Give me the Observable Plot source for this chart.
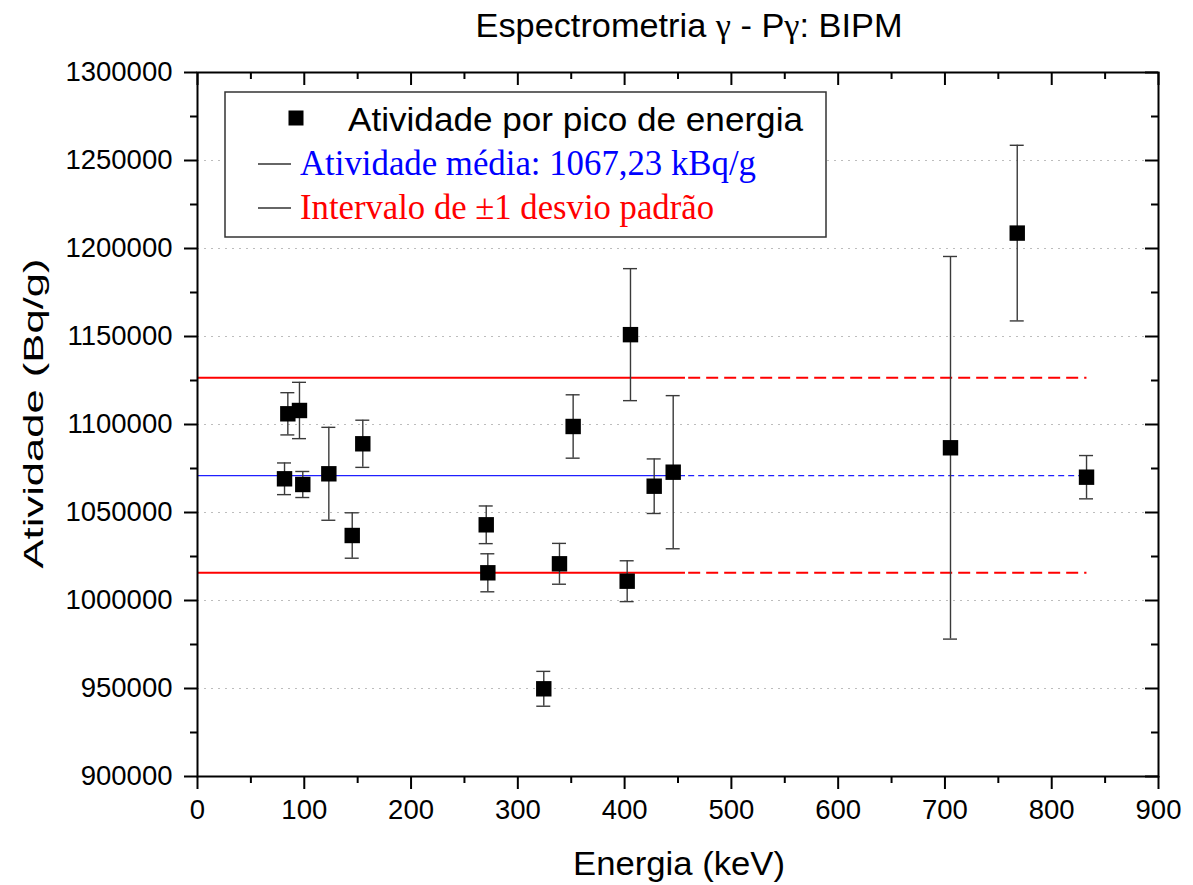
<!DOCTYPE html>
<html><head><meta charset="utf-8">
<script src="https://cdn.jsdelivr.net/npm/d3@7"></script>
<script src="https://cdn.jsdelivr.net/npm/@observablehq/plot@0.6"></script>
<style>
body{margin:0;background:#fff;}
#wrap{position:relative;width:1193px;height:885px;overflow:hidden;}
#wrap svg{position:absolute;left:0;top:0;}
</style></head><body><div id="wrap"></div>
<script>
// ---- data ----
const energies   = [81.5, 84.6, 95.5, 98.6, 123, 144.9, 154.8, 270.4, 271.9, 324.3, 339, 351.8, 402.4, 405.5, 427.7, 445.5, 705.2, 767.7, 832.6];
const activities = [1069150, 1106080, 1107960, 1065910, 1071990, 1036930, 1089040, 1043010, 1015740, 949830, 1020850, 1098870, 1010970, 1151050, 1064940, 1072900, 1086770, 1208750, 1070060];
const errors     = [9000, 12000, 16000, 7400, 26400, 12900, 13400, 10700, 10800, 9900, 11600, 18000, 11600, 37500, 15500, 43500, 108700, 49900, 12300];
const meanActivity = [1071000];
const sdBounds     = [1126500, 1015800];
const solidRange   = [0, 457];     // keV, solid part of reference lines
const dashedRange  = [460, 833];   // keV, dashed part of reference lines
const xTicks      = [0, 100, 200, 300, 400, 500, 600, 700, 800, 900];
const xMinorTicks = [50, 150, 250, 350, 450, 550, 650, 750, 850];
const yTicks      = [900000, 950000, 1000000, 1050000, 1100000, 1150000, 1200000, 1250000, 1300000];
const yMinorTicks = [925000, 975000, 1025000, 1075000, 1125000, 1175000, 1225000, 1275000];
const gridTicks   = [950000, 1000000, 1050000, 1100000, 1150000, 1200000, 1250000];
const titleText   = ["Espectrometria ", "γ", " - P", "γ", ": BIPM"];
const xLabel = "Energia (keV)";
const yLabel = "Atividade (Bq/g)";
const legendLabels = ["Atividade por pico de energia", "Atividade média: 1067,23 kBq/g", "Intervalo de ±1 desvio padrão"];

const data = energies.map((e, i) => ({e, a: activities[i], err: errors[i]}));

const W = 1193, H = 885, mL = 197, mR = 35, mT = 72, mB = 109;
const fw = W - mL - mR, fh = H - mT - mB;
const sans = "'Liberation Sans', Arial, Helvetica, sans-serif";
const serif = "'Liberation Serif', 'Times New Roman', serif";

const plot = Plot.plot({
  width: W, height: H,
  marginLeft: mL, marginRight: mR, marginTop: mT, marginBottom: mB,
  style: {fontFamily: sans, fontSize: "27.5px", color: "black", background: "white", overflow: "visible"},
  x: {domain: [0, 900], label: null},
  y: {domain: [900000, 1300000], label: null},
  marks: [
    Plot.gridY({ticks: gridTicks, stroke: "#bdbdbd", strokeOpacity: 1, strokeWidth: 1.2, strokeDasharray: "2,5"}),
    // ±1 sd bounds
    Plot.ruleY(sdBounds, {y: d => d, x1: solidRange[0], x2: solidRange[1], stroke: "#ff0000", strokeWidth: 2}),
    Plot.ruleY(sdBounds, {y: d => d, x1: dashedRange[0], x2: dashedRange[1], stroke: "#ff0000", strokeWidth: 2, strokeDasharray: "12,6"}),
    // mean
    Plot.ruleY(meanActivity, {y: d => d, x1: solidRange[0], x2: solidRange[1], stroke: "#2020ff", strokeWidth: 1.2}),
    Plot.ruleY(meanActivity, {y: d => d, x1: dashedRange[0], x2: dashedRange[1], stroke: "#2020ff", strokeWidth: 1.2, strokeDasharray: "6,4"}),
    // error bars
    Plot.ruleX(data, {x: "e", y1: d => d.a - d.err, y2: d => d.a + d.err, stroke: "#3a3a3a", strokeWidth: 1.4}),
    Plot.ruleY(data, {y: d => d.a + d.err, x1: "e", x2: "e", insetLeft: -7, insetRight: -7, stroke: "#3a3a3a", strokeWidth: 1.4}),
    Plot.ruleY(data, {y: d => d.a - d.err, x1: "e", x2: "e", insetLeft: -7, insetRight: -7, stroke: "#3a3a3a", strokeWidth: 1.4}),
    // points
    Plot.dot(data, {x: "e", y: "a", symbol: "square", r: 8.7, fill: "black", stroke: "none"}),
    // frame and axes
    Plot.frame({stroke: "black", strokeWidth: 2}),
    Plot.axisX({ticks: xTicks, tickSize: 13, tickPadding: 10, tickFormat: d3.format("d"), strokeWidth: 2, label: null}),
    Plot.axisX({ticks: xMinorTicks, tickSize: 7, tickFormat: () => "", strokeWidth: 2, label: null}),
    Plot.axisY({ticks: yTicks, tickSize: 13, tickPadding: 12, tickFormat: d3.format("d"), strokeWidth: 2, label: null}),
    Plot.axisY({ticks: yMinorTicks, tickSize: 7, tickFormat: () => "", strokeWidth: 2, label: null}),
    // inward ticks on top and right
    Plot.ruleX(xTicks, {x: d => d, insetBottom: fh - 13, stroke: "black", strokeWidth: 2}),
    Plot.ruleX(xMinorTicks, {x: d => d, insetBottom: fh - 7, stroke: "black", strokeWidth: 2}),
    Plot.ruleY(yTicks, {y: d => d, insetLeft: fw - 13, stroke: "black", strokeWidth: 2}),
    Plot.ruleY(yMinorTicks, {y: d => d, insetLeft: fw - 7, stroke: "black", strokeWidth: 2})
  ]
});
document.getElementById("wrap").appendChild(plot);

// ---- overlay: title, axis titles, legend ----
const ov = d3.select("#wrap").append("svg")
  .attr("width", W).attr("height", H)
  .style("pointer-events", "none");

const t = ov.append("text").attr("x", 689).attr("y", 37)
  .attr("text-anchor", "middle").attr("font-family", sans).attr("font-size", 33.5)
  .attr("textLength", 427).attr("lengthAdjust", "spacingAndGlyphs").attr("fill", "black");
titleText.forEach((s, i) => {
  t.append("tspan").attr("font-family", s === "γ" ? serif : sans).text(s);
});

ov.append("text").attr("x", 679).attr("y", 875)
  .attr("text-anchor", "middle").attr("font-family", sans).attr("font-size", 34)
  .attr("textLength", 212).attr("lengthAdjust", "spacingAndGlyphs")
  .attr("fill", "black").text(xLabel);

ov.append("text").attr("transform", "translate(43,413.5) rotate(-90)")
  .attr("text-anchor", "middle").attr("font-family", sans).attr("font-size", 28)
  .attr("textLength", 310).attr("lengthAdjust", "spacingAndGlyphs")
  .attr("fill", "black").text(yLabel);

// legend
const lg = ov.append("g");
lg.append("rect").attr("x", 225).attr("y", 92).attr("width", 601).attr("height", 145)
  .attr("fill", "white").attr("stroke", "#333").attr("stroke-width", 1.5);
lg.append("rect").attr("x", 288.5).attr("y", 110.5).attr("width", 15).attr("height", 15).attr("fill", "black");
lg.append("text").attr("x", 348).attr("y", 130.5).attr("font-family", sans).attr("font-size", 34)
  .attr("textLength", 455).attr("lengthAdjust", "spacingAndGlyphs").attr("fill", "black").text(legendLabels[0]);
[[164, "#0000ff", 456, 175], [208, "#ff0000", 414, 219]].forEach(([ly, col, len, by], i) => {
  lg.append("line").attr("x1", 258).attr("x2", 291).attr("y1", ly).attr("y2", ly)
    .attr("stroke", "#333").attr("stroke-width", 1.5);
  lg.append("text").attr("x", 300).attr("y", by).attr("font-family", serif).attr("font-size", 35)
    .attr("textLength", len).attr("lengthAdjust", "spacingAndGlyphs").attr("fill", col).text(legendLabels[i + 1]);
});
</script>
</body></html>
